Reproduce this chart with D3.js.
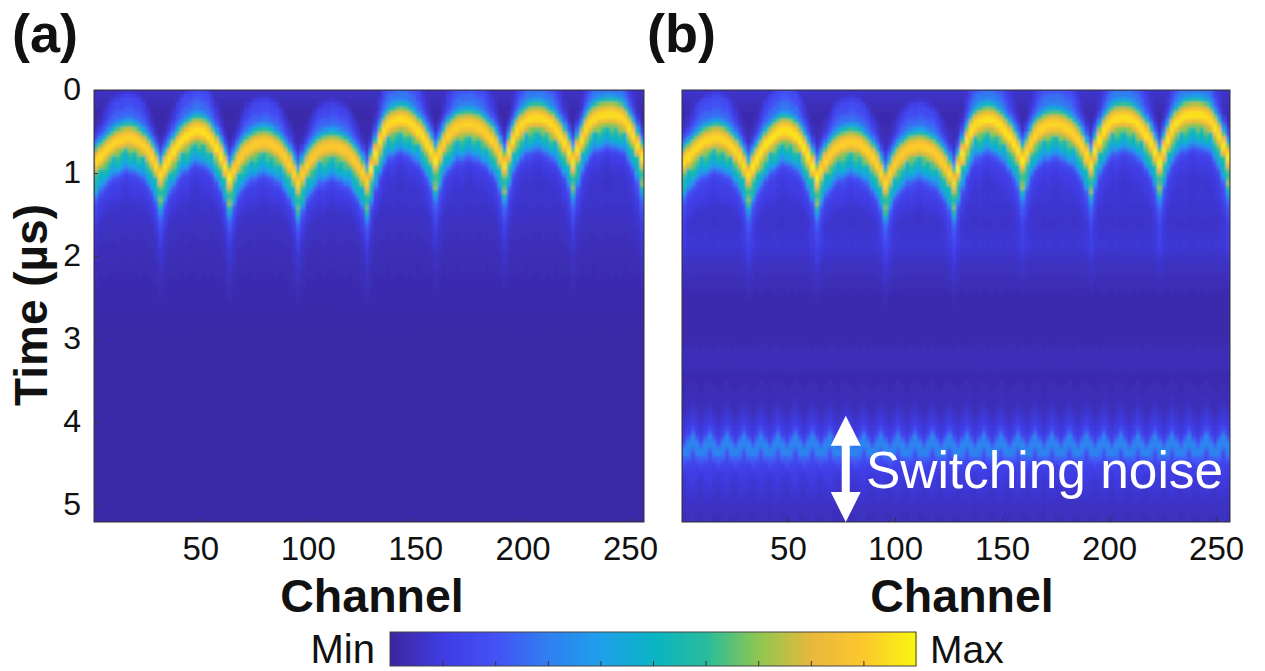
<!DOCTYPE html>
<html><head><meta charset="utf-8">
<style>html,body{margin:0;background:#fff}svg{display:block}text{font-family:"Liberation Sans",Arial,sans-serif;fill:#111}</style>
<script src="https://cdn.jsdelivr.net/npm/d3@7"></script></head><body>
<svg id="c" width="1265" height="671"></svg>
<script>
// wavefront arrival time (µs) read per 2 channels
const wavefront = [
.87,.81,.75,.70,.66,.62,.60,.58,.58,.60,.63,.68,.74,.82,.92,1.03,
.93,.84,.75,.67,.61,.56,.52,.49,.49,.51,.55,.62,.70,.80,.93,1.07,
.97,.87,.79,.73,.69,.66,.64,.63,.64,.66,.70,.75,.82,.90,1.01,1.13,
1.02,.92,.84,.78,.73,.70,.69,.68,.69,.71,.74,.79,.85,.92,1.01,1.12,
.95,.78,.62,.50,.43,.39,.37,.36,.37,.40,.44,.50,.57,.65,.74,.85,
.75,.64,.55,.49,.45,.43,.42,.42,.43,.45,.49,.54,.60,.68,.79,.91,
.74,.61,.50,.43,.38,.35,.34,.34,.35,.38,.42,.48,.55,.64,.75,.88,
.73,.60,.48,.40,.35,.32,.31,.30,.30,.31,.33,.38,.46,.55,.68,.82];
const tileGain = [.97,1,.95,.94,1,.97,1,1];
const lobeByPos = [.05,.2,.45,.8,1,1,.9,1,1,.9,1,.8,.45,.25,.08,.02];
const tailByPos = [.5,.2,.12,.1,.15,.2,.1,.08,.12,.18,.1,.12,.1,.2,.45,1];
const columnStreak = [1,.9,1.1,1.05,.85,1.1,1,.9,1.1,.95,1.1,.85,1.05,1,.9,1];
// amplitude vs. delay behind the wavefront
const pulseDelay = [-.5,-.38,-.28,-.22,-.16,-.1,-.04,.02,.08,.14,.2,.26,.32,.38,.44,.52,.62,.8];
const pulseValue = [0,.03,.18,.36,.6,.78,.92,.94,.8,.64,.55,.46,.36,.22,.1,.05,.03,.01];
const lobeDelay = [-.58,-.48,-.34,-.24];
const lobeValue = [0,.12,.14,0];
const tailDelay = [.2,.32,.5,.8,1.2,1.6];
const tailValue = [0,.3,.16,.06,.02,0];
// background level vs. time
const bgTime = [0,.1,.3,1.3,1.6,2,2.6,3,5.2];
const bgA = [.055,.04,.01,.05,.035,.02,.008,0,0];
const noiseTime = [0,1.6,1.85,2.1,2.5,3,3.2,3.5,3.9,4.2,4.35,4.45,4.6,4.8,5,5.2];
const noiseB = [.01,.01,.04,.02,0,.008,.03,.01,.03,.1,.32,.3,.11,.07,.05,.03];
const ripple = [0,.09,.17,.08];
const streak = [.75,1.1,1.35,1];
const xTicks = [50,100,150,200,250];
const yTicks = [0,1,2,3,4,5];
const cmStops = [0,.1,.2,.3,.4,.5,.6,.7,.8,.9,1];
const cmColors = ["#3a27a0","#3f3ce4","#4452f5","#2f80f0","#1ea0ea","#0ab4c4","#28bc9c","#90c650","#e8b83c","#fcc82e","#f8f80f"];

const color = d3.scaleLinear().domain(cmStops).range(cmColors).clamp(true);
const pulse = d3.scaleLinear().domain(pulseDelay).range(pulseValue).clamp(true);
const lobe = d3.scaleLinear().domain(lobeDelay).range(lobeValue).clamp(true);
const tail = d3.scaleLinear().domain(tailDelay).range(tailValue).clamp(true);
const bg = d3.scaleLinear().domain(bgTime).range(bgA).clamp(true);
const noise = d3.scaleLinear().domain(noiseTime).range(noiseB).clamp(true);

const svg = d3.select("#c");
const defs = svg.append("defs");
defs.append("filter").attr("id","soft").attr("x","-2%").attr("y","-2%").attr("width","104%").attr("height","104%")
  .append("feGaussianBlur").attr("stdDeviation",1.1);

const plotTop = 90, plotBottom = 522, dt = .05;
const rows = d3.range(104);
function panel(id, x0, x1, withNoise, titleX){
  const x = d3.scaleLinear().domain([.5,256.5]).range([x0,x1]);
  const y = d3.scaleLinear().domain([0,5.2]).range([plotTop,plotBottom]);
  defs.append("clipPath").attr("id","clip"+id).append("rect")
    .attr("x",x0).attr("y",plotTop).attr("width",x1-x0).attr("height",plotBottom-plotTop);
  const g = svg.append("g");
  const clip = g.append("g").attr("clip-path",`url(#clip${id})`);
  clip.append("rect").attr("x",x0).attr("y",plotTop).attr("width",x1-x0).attr("height",plotBottom-plotTop).attr("fill",color(.02));
  const heat = clip.append("g").attr("filter","url(#soft)").attr("shape-rendering","crispEdges");
  wavefront.forEach((w,c)=>{
    const pos = c%16, tile = c>>4, t4 = c%4;
    const col = heat.append("g");
    col.selectAll("rect").data(rows).join("rect")
      .attr("x",x(c*2+.5)).attr("width",x(c*2+2.5)-x(c*2+.5)+.6)
      .attr("y",r=>y(r*dt)).attr("height",y(dt)-y(0)+.6)
      .attr("fill",r=>{
        const t=(r+.5)*dt, d=t-w;
        let p=pulse(d)*tileGain[tile];
        if(d>.14) p*=columnStreak[pos];
        let v=p+lobe(d)*lobeByPos[pos]+tail(d)*tailByPos[pos]+bg(t);
        if(withNoise){
          const shifted=t>3.5? t+ripple[t4]:t;
          v+=noise(shifted)*(t>4.38?streak[t4]:1);
        }
        return color(v);
      });
  });
  g.append("rect").attr("x",x0).attr("y",plotTop).attr("width",x1-x0).attr("height",plotBottom-plotTop)
    .attr("fill","none").attr("stroke","#333").attr("stroke-width",1);
  const ax = g.append("g").attr("transform",`translate(0,${plotBottom})`)
    .call(d3.axisBottom(x).tickValues(xTicks).tickSize(-4).tickPadding(15));
  ax.select(".domain").remove();
  ax.selectAll("text").attr("font-size",33).attr("fill","#111");
  ax.selectAll("line").attr("stroke","#333");
  if(id==="a"){
    const ay = g.append("g").attr("transform",`translate(${x0},0)`)
      .call(d3.axisLeft(y).tickValues(yTicks).tickFormat(d3.format("d")).tickSize(-4).tickPadding(13));
    ay.select(".domain").remove();
    ay.selectAll("text").attr("font-size",32).attr("fill","#111").attr("dy","0.3em");
    ay.selectAll("line").attr("stroke","#333");
  }
  g.append("text").attr("x",titleX).attr("y",612).attr("text-anchor","middle")
    .attr("font-weight","bold").attr("font-size",46.5).text("Channel");
  return {x,y};
}
const pa = panel("a",94,644,false,372);
const pb = panel("b",682,1230,true,962);

svg.append("text").attr("x",12).attr("y",52).attr("font-weight","bold").attr("font-size",54).text("(a)");
svg.append("text").attr("x",647).attr("y",52).attr("font-weight","bold").attr("font-size",54).text("(b)");
svg.append("text").attr("transform","translate(47,305) rotate(-90)").attr("text-anchor","middle")
  .attr("font-weight","bold").attr("font-size",46).text("Time (µs)");

// annotation
const arrowX = pb.x(77), arrowY0 = pb.y(3.92), arrowY1 = pb.y(5.2);
const aw = 15, ah = 30;
svg.append("path").attr("fill","#fff").attr("d",d3.line()([
 [arrowX,arrowY0],[arrowX+aw,arrowY0+ah],[arrowX+4,arrowY0+ah],[arrowX+4,arrowY1-ah],[arrowX+aw,arrowY1-ah],[arrowX,arrowY1],
 [arrowX-aw,arrowY1-ah],[arrowX-4,arrowY1-ah],[arrowX-4,arrowY0+ah],[arrowX-aw,arrowY0+ah]])+"Z");
svg.append("text").attr("x",866).attr("y",488).attr("font-size",51.4).style("fill","#fff").text("Switching noise");

// colour bar
const cbx = d3.scaleLinear().domain([0,1]).range([390,916]);
const cbSteps = d3.range(0,1,1/263);
svg.append("g").attr("shape-rendering","crispEdges").selectAll("rect").data(cbSteps).join("rect")
  .attr("x",d=>cbx(d)).attr("y",632).attr("height",34).attr("width",cbx(1/263)-cbx(0)+.5).attr("fill",d=>color(d));
svg.append("rect").attr("x",390).attr("y",632).attr("width",526).attr("height",34)
  .attr("fill","none").attr("stroke","#444");
const cbTicks = svg.append("g").attr("transform","translate(0,666)")
  .call(d3.axisBottom(cbx).tickValues(d3.range(1,10).map(i=>i/10)).tickSize(-5).tickFormat(""));
cbTicks.select(".domain").remove();
cbTicks.selectAll("line").attr("stroke","#333");
svg.append("text").attr("x",375).attr("y",663).attr("text-anchor","end").attr("font-size",40).text("Min");
svg.append("text").attr("x",930).attr("y",663).attr("font-size",39).text("Max");
</script></body></html>
